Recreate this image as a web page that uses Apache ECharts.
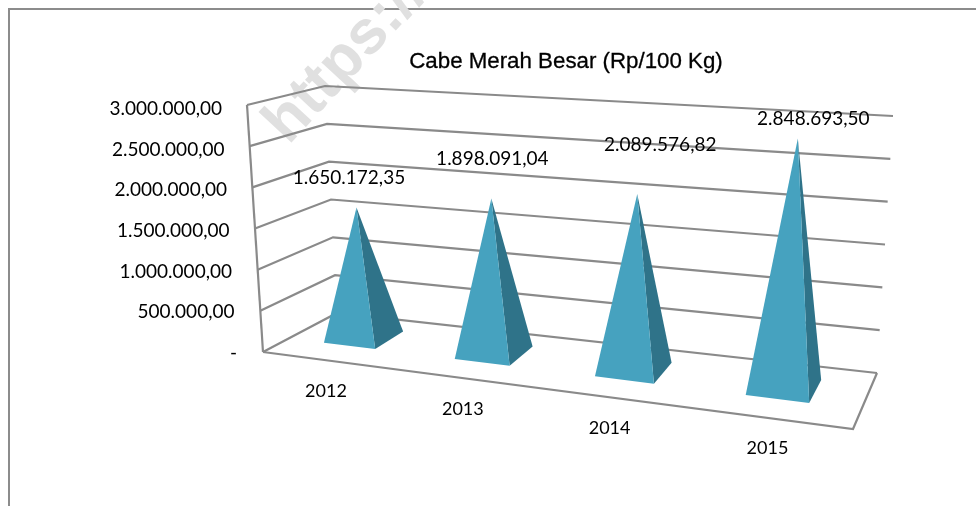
<!DOCTYPE html>
<html>
<head>
<meta charset="utf-8">
<style>html,body{margin:0;padding:0;background:#fff}#c{width:976px;height:506px}</style>
<script src="https://cdn.jsdelivr.net/npm/echarts@6/dist/echarts.min.js"></script>
</head>
<body>
<div id="c"></div>
<script>
// ---- data ----
const chartTitle = 'Cabe Merah Besar (Rp/100 Kg)';
const categories = ['2012', '2013', '2014', '2015'];
const values = [1650172.35, 1898091.04, 2089576.82, 2848693.50];
const valueLabels = ['1.650.172,35', '1.898.091,04', '2.089.576,82', '2.848.693,50'];
const tickValues = [0, 500000, 1000000, 1500000, 2000000, 2500000, 3000000];
const tickLabels = ['-', '500.000,00', '1.000.000,00', '1.500.000,00', '2.000.000,00', '2.500.000,00', '3.000.000,00'];

// ---- layout: the box of the 3D scene on the page ----
const FL0 = [263, 352], FR0 = [853, 429], BL0 = [337, 313], BR0 = [877, 373];
const FL1 = [247, 105], FR1 = [873, 144], BL1 = [325, 86], BR1 = [893, 116];
const PERSPECTIVE = 1.154;
const BASE_FRONT = 0.35, BASE_BACK = 0.77, APEX_DEPTH = 0.5, BAR_RATIO = 0.4, BASE_SHIFT = -0.005;
const valueLabelNudge = [[-7.5, -30], [1, -40], [23, -49.5], [15.5, -20]];
const FONT = 'Lato, "Open Sans", sans-serif';
const LINE = '#8a8a8a', FRONT = '#46a2bf', SIDE = '#2f7389', INK = '#000';

const lerp = (a, b, t) => [a[0] + (b[0] - a[0]) * t, a[1] + (b[1] - a[1]) * t];
const warp = u => u / (u + PERSPECTIVE * (1 - u));
// u: along categories (0..1), d: depth (0..1), v: height (0..1)
function project(u, d, v) {
  const w = warp(u);
  const floor = lerp(lerp(FL0, FR0, w), lerp(BL0, BR0, w), d);
  const top = lerp(lerp(FL1, FR1, w), lerp(BL1, BR1, w), d);
  return lerp(floor, top, v);
}
// reads the library's scales: grid pixels -> unit coordinates
function unit(params, api, cat, val) {
  const r = params.coordSys, p = api.coord([cat, val]);
  return [(p[0] - r.x) / r.width, (r.y + r.height - p[1]) / r.height];
}
function renderWall(params, api) {
  const [, v] = unit(params, api, 0, api.value(1));
  const pts = [project(0, 0, v), project(0, 1, v), project(1, 1, v)];
  const children = [{type: 'polyline', shape: {points: pts}, style: {stroke: LINE, lineWidth: 2.2, fill: 'none', lineJoin: 'miter'}}];
  if (v === 0) {
    children.push({type: 'polyline', shape: {points: [project(0, 0, 0), project(1, 0, 0), project(1, 1, 0)]}, style: {stroke: LINE, lineWidth: 2.2, fill: 'none'}});
    children.push({type: 'polyline', shape: {points: [project(0, 0, 0), project(0, 0, 1)]}, style: {stroke: LINE, lineWidth: 2.2, fill: 'none'}});
  }
  return {type: 'group', children};
}
function renderPyramid(params, api) {
  const i = api.value(0), val = api.value(1);
  const [u, v] = unit(params, api, i, val);
  const half = api.size([1, 0])[0] * BAR_RATIO / 2 / params.coordSys.width;
  const fl = project(u - half + BASE_SHIFT, BASE_FRONT, 0), fr = project(u + half + BASE_SHIFT, BASE_FRONT, 0);
  const rb = project(u + half + BASE_SHIFT, BASE_BACK, 0), apex = project(u, APEX_DEPTH, v);
  const n = valueLabelNudge[i];
  const axisPoint = project(u, 0, 0);
  return {type: 'group', children: [
    {type: 'polygon', shape: {points: [fr, rb, apex]}, style: {fill: SIDE}},
    {type: 'polygon', shape: {points: [fl, fr, apex]}, style: {fill: FRONT}},
    {type: 'text', style: {text: valueLabels[i], x: apex[0] + n[0], y: apex[1] + n[1], align: 'center', verticalAlign: 'middle', font: '19px ' + FONT, fill: INK}},
    {type: 'text', style: {text: categories[i], x: axisPoint[0] - 2, y: axisPoint[1] + 30.5, align: 'center', verticalAlign: 'middle', font: '18px ' + FONT, fill: INK}}
  ]};
}

const chart = echarts.init(document.getElementById('c'));
const richStyles = {};
tickLabels.forEach((t, i) => {
  richStyles['t' + i] = {fontFamily: FONT, fontSize: 19, color: INK, padding: [0, 15 * i / (tickLabels.length - 1), 0, 0]};
});
chart.setOption({
  animation: false,
  backgroundColor: '#fff',
  title: {text: chartTitle, left: 561, top: 57, textAlign: 'center', textVerticalAlign: 'middle',
    textStyle: {fontFamily: '"Liberation Sans", sans-serif', fontSize: 22.3, fontWeight: 'normal', color: '#000', textBorderColor: '#000', textBorderWidth: 0.3}},
  graphic: [
    {type: 'polyline', z: -1, silent: true, shape: {points: [[9, 506], [9, 9], [976, 9]]}, style: {stroke: '#8c8c8c', lineWidth: 2, fill: 'none'}},
    {type: 'text', z: -1, silent: true, x: 276, y: 134, rotation: Math.PI * 47 / 180, style: {text: 'https://', font: 'bold 62px "Liberation Sans", sans-serif', fill: '#e0e0e0', verticalAlign: 'middle'}}
  ],
  grid: {left: 237, top: 109, height: 244, width: 640},
  xAxis: {type: 'category', data: categories, show: false},
  yAxis: {type: 'value', min: 0, max: 3000000, interval: 500000, splitLine: {show: false}, axisLine: {show: false}, axisTick: {show: false},
    axisLabel: {margin: 0, formatter: v => { const i = tickValues.indexOf(v); return '{t' + i + '|' + tickLabels[i] + '}'; }, rich: richStyles}},
  series: [
    {type: 'custom', coordinateSystem: 'cartesian2d', renderItem: renderWall, clip: false, z: 2, silent: true, data: tickValues.map(v => [0, v])},
    {type: 'custom', coordinateSystem: 'cartesian2d', renderItem: renderPyramid, clip: false, z: 3, silent: true, data: values.map((v, i) => [i, v])}
  ]
});
</script>
</body>
</html>
